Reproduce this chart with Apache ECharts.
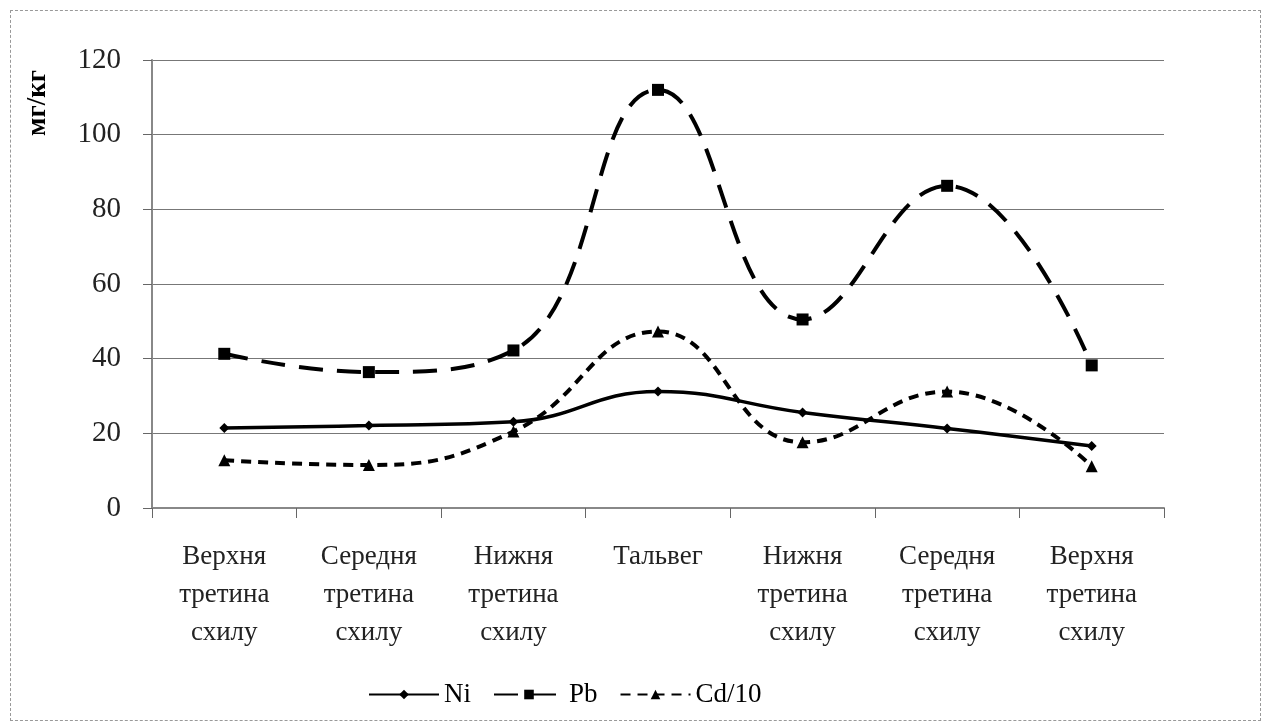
<!DOCTYPE html>
<html>
<head>
<meta charset="utf-8">
<script src="https://cdn.jsdelivr.net/npm/echarts@6/dist/echarts.min.js"></script>
<style>
  html, body { margin: 0; padding: 0; background: #fff; }
  #chart { width: 1265px; height: 725px; }
  #frame { position: absolute; left: 10px; top: 10px; width: 1251px; height: 711px;
    border: 1px dashed #999; box-sizing: border-box; pointer-events: none; }
</style>
</head>
<body>
<div id="chart"></div>
<div id="frame"></div>
<script>
// categories along the slope profile
const categories = [
  'Верхня\nтретина\nсхилу', 'Середня\nтретина\nсхилу', 'Нижня\nтретина\nсхилу',
  'Тальвег',
  'Нижня\nтретина\nсхилу', 'Середня\nтретина\nсхилу', 'Верхня\nтретина\nсхилу'
]
const niValues = [21.4, 22.1, 23.1, 31.2, 25.6, 21.3, 16.6]
const pbValues = [41.3, 36.4, 42.2, 112.0, 50.5, 86.3, 38.2]
const cdValues = [12.8, 11.5, 20.5, 47.3, 17.6, 31.2, 11.2]
const yTicks = { min: 0, max: 120, interval: 20 }

const font = 'Liberation Serif, Times New Roman, serif'
const chart = echarts.init(document.getElementById('chart'))

const option = {
  backgroundColor: '#fff',
  animation: false,
  textStyle: { fontFamily: font, color: '#000' },
  grid: { left: 152, right: 101, top: 60, bottom: 217 },
  legend: {
    top: 676,
    left: 363,
    itemWidth: 70,
    itemHeight: 12,
    itemGap: 22,
    textStyle: { fontFamily: font, fontSize: 27, color: '#000' },
    data: ['Ni', 'Pb', 'Cd/10']
  },
  xAxis: {
    type: 'category',
    data: categories,
    boundaryGap: true,
    axisLine: { lineStyle: { color: '#888', width: 2 } },
    axisTick: { show: true, length: 10, lineStyle: { color: '#666', width: 1 } },
    axisLabel: {
      interval: 0,
      margin: 30,
      fontFamily: font,
      fontSize: 27,
      lineHeight: 38,
      color: '#222'
    }
  },
  yAxis: {
    type: 'value',
    min: yTicks.min,
    max: yTicks.max,
    interval: yTicks.interval,
    axisLine: { show: true, lineStyle: { color: '#888', width: 2 } },
    axisTick: { show: true, length: 9, lineStyle: { color: '#666', width: 1 } },
    axisLabel: { fontFamily: font, fontSize: 29, color: '#222', margin: 31 },
    splitLine: { show: true, lineStyle: { color: '#777', width: 1 } }
  },
  series: [
    {
      name: 'Ni',
      type: 'line',
      data: niValues,
      smooth: 0.45,
      symbol: 'diamond',
      symbolSize: 10,
      itemStyle: { color: '#000' },
      lineStyle: { color: '#000', width: 3.5 }
    },
    {
      name: 'Pb',
      type: 'line',
      data: pbValues,
      smooth: 0.45,
      symbol: 'rect',
      symbolSize: 12,
      itemStyle: { color: '#000' },
      lineStyle: { color: '#000', width: 4, type: [24, 14] }
    },
    {
      name: 'Cd/10',
      type: 'line',
      data: cdValues,
      smooth: 0.45,
      symbol: 'triangle',
      symbolSize: 12,
      itemStyle: { color: '#000' },
      lineStyle: { color: '#000', width: 4, type: [10, 7] }
    }
  ],
  // rotated unit label on the left, like the original
  graphic: [{
    type: 'text',
    left: 25,
    top: 70,
    rotation: Math.PI / 2,
    style: { text: 'мг/кг', font: 'bold 27px ' + font, fill: '#000' }
  }]
}
chart.setOption(option)
</script>
</body>
</html>
